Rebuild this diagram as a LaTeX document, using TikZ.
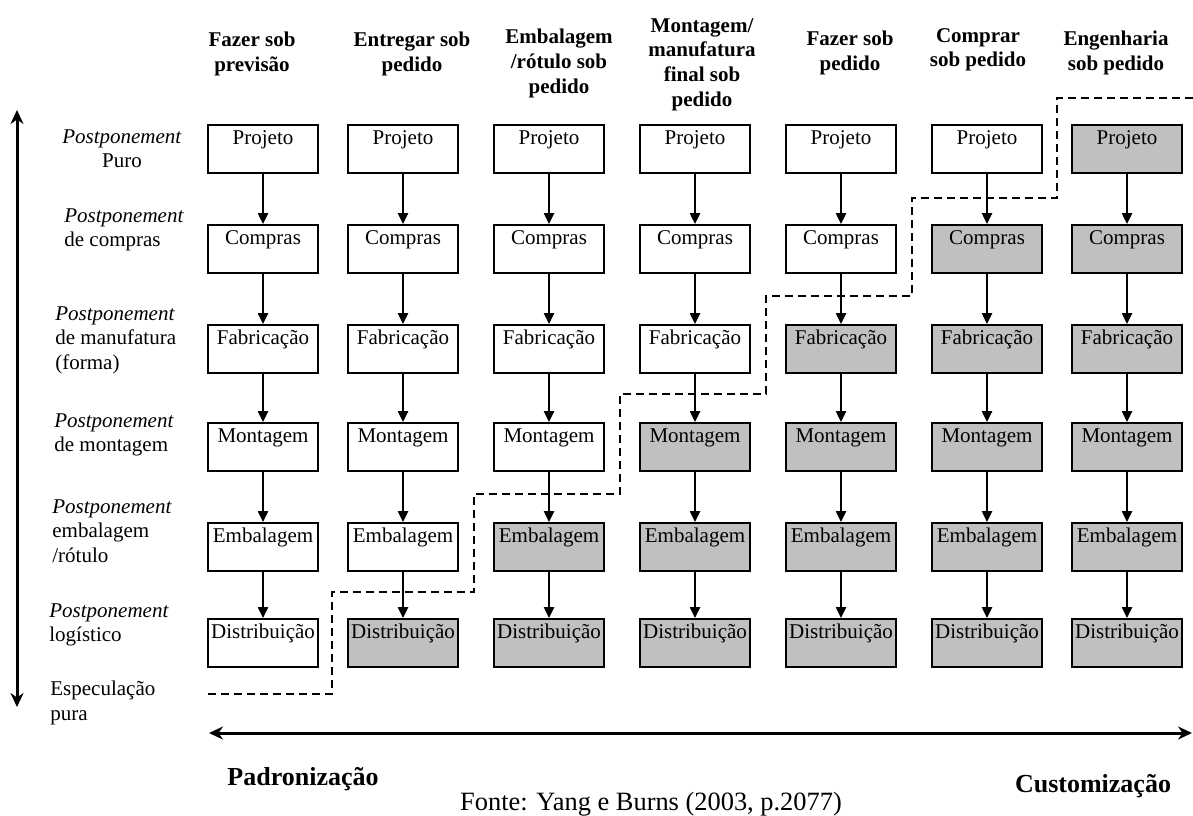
\documentclass[tikz,border=0pt]{standalone}
\usepackage{fontspec}
\setmainfont{Liberation Serif}
\usetikzlibrary{arrows.meta}
\definecolor{boxgray}{RGB}{192,192,192}

\begin{document}
\begin{tikzpicture}[
    x=0.5pt, y=-0.5pt,
    font=\fontsize{10.5}{12.3}\selectfont,
    box/.style={draw, line width=0.9pt, anchor=north, minimum width=55pt, minimum height=24pt,
                inner xsep=0.5pt, inner ysep=1.5pt, text height=8.5pt, text depth=12.5pt},
    flow/.style={-{Triangle[length=5.5pt,width=5.2pt]}, line width=0.6pt},
    head/.style={anchor=north, align=center, inner sep=0pt, font=\fontsize{10.5}{12.3}\selectfont\bfseries},
    level/.style={anchor=north west, align=left, inner sep=0pt},
    axis/.style={{Stealth[length=7pt,width=6.5pt]}-{Stealth[length=7pt,width=6.5pt]}, line width=1.5pt},
    limit/.style={dash pattern=on 4pt off 2.5pt, line width=0.6pt},
    big/.style={anchor=base, inner sep=0pt, font=\fontsize{13}{15}\selectfont\bfseries}
]
  \useasboundingbox (0,0) rectangle (1193,815);

  % column titles
  \node[head] (h1) at (252,32)  {Fazer sob\\previsão};
  \node[head] (h2) at (412,32)  {Entregar sob\\pedido};
  \node[head] (h3) at (559,29)  {Embalagem\\/rótulo sob\\pedido};
  \node[head] (h4) at (702,18)  {Montagem/\\manufatura\\final sob\\pedido};
  \node[head] (h5) at (850,31)  {Fazer sob\\pedido};
  \node[head] (h6) at (978,28)  {Comprar\\sob pedido};
  \node[head] (h7) at (1116,31) {Engenharia\\sob pedido};

  % row titles
  \node[anchor=north, align=center, inner sep=0pt] (l1) at (122,129) {\textit{Postponement}\\Puro};
  \node[level] (l2) at (64,208) {\textit{Postponement}\\de compras};
  \node[level] (l3) at (55,306) {\textit{Postponement}\\de manufatura\\(forma)};
  \node[level] (l4) at (54,413) {\textit{Postponement}\\de montagem};
  \node[level] (l5) at (52,499) {\textit{Postponement}\\embalagem\\/rótulo};
  \node[level] (l6) at (49,603) {\textit{Postponement}\\logístico};
  \node[level] (l7) at (50,681) {Especulação\\pura};

  % boxes
  \foreach \x [count=\c] in {263,403,549,695,841,987,1127} {
    \foreach \y/\t [count=\r] in {124/Projeto,224/Compras,324/Fabricação,422/Montagem,522/Embalagem,618/Distribuição} {
      \ifnum\numexpr\r+\c\relax>7 \def\fc{boxgray}\else\def\fc{white}\fi
      \node[box, fill=\fc] (b\c\r) at (\x,\y) {\t};
    }
  }

  % edges
  \foreach \c in {1,...,7} {
    \foreach \r [evaluate=\r as \s using {int(\r+1)}] in {1,...,5} {
      \draw[flow] (b\c\r.south) -- (b\c\s.north);
    }
  }

  % limit line
  \draw[limit] (208,694) -| (332,592) -| (474,494) -| (620,394) -| (766,296) -| (912,198) -| (1057,98) -- (1193,98);

  % axes
  \coordinate (vtop) at (17,110);
  \coordinate (vbot) at (17,707);
  \coordinate (hleft) at (209,733);
  \coordinate (hright) at (1192,733);
  \draw[axis] (vtop) -- (vbot);
  \draw[axis] (hleft) -- (hright);

  \node[big] (pad) at (303,785) {Padronização};
  \node[big] (cus) at (1093,792) {Customização};
  \node[anchor=base, inner sep=0pt, font=\fontsize{13.2}{15}\selectfont] (src) at (651,810) {Fonte: Yang e Burns (2003, p.2077)};
\end{tikzpicture}
\end{document}
